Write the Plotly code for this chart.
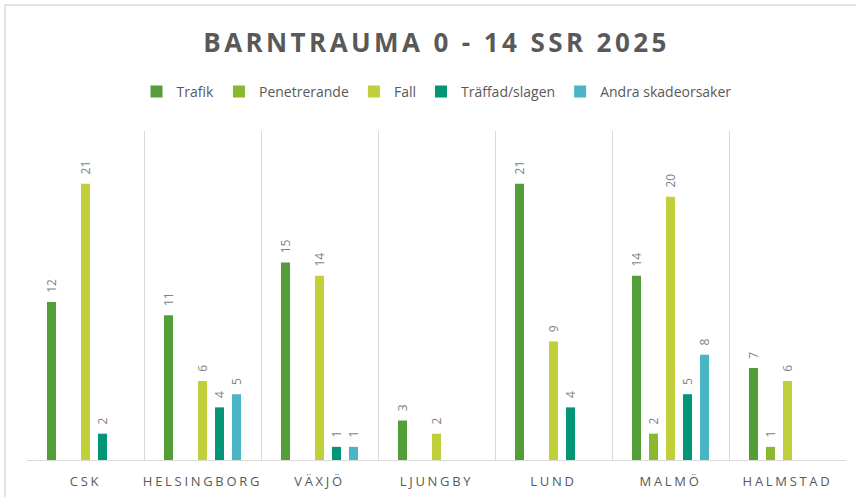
import plotly.graph_objects as go

categories = ["CSK", "HELSINGBORG", "VÄXJÖ", "LJUNGBY", "LUND", "MALMÖ", "HALMSTAD"]
series_names = ["Trafik", "Penetrerande", "Fall", "Träffad/slagen", "Andra skadeorsaker"]
trafik = [12, 11, 15, 3, 21, 14, 7]
penetrerande = [None, None, None, None, None, 2, 1]
fall = [21, 6, 14, 2, 9, 20, 6]
traffad = [2, 4, 1, None, 4, 5, None]
andra = [None, 5, 1, None, None, 8, None]
colors = ["#549E39", "#8AB833", "#C0CF3A", "#029676", "#4AB5C4"]

W, H = 856, 497
ML, MR, MT, MB = 27, 10, 131, 37
PW, PH = W - ML - MR, H - MT - MB

fig = go.Figure()
for name, vals, col in zip(series_names, [trafik, penetrerande, fall, traffad, andra], colors):
    fig.add_trace(go.Bar(
        name=name, x=categories, y=vals, marker=dict(color=col, line=dict(width=0)),
        text=[None if v is None else "\u00a0\u00a0" + str(v) for v in vals],
        textposition="outside", textangle=-90, constraintext="none", cliponaxis=False,
        textfont=dict(family="Open Sans", size=12, color="#7f7f7f"),
        hoverinfo="x+y+name",
    ))

fig.update_layout(
    width=W, height=H,
    margin=dict(l=ML, r=MR, t=MT, b=MB, autoexpand=False),
    paper_bgcolor="white", plot_bgcolor="white",
    barmode="group", bargap=0.2735, bargroupgap=0.47,
    title=dict(text="<b>BARNTRAUMA 0 - 14 SSR 2025</b>", x=0.5, xref="paper", xanchor="center",
               y=1 - 43 / H, yanchor="middle",
               font=dict(family="Open Sans", size=26, color="#595959")),
    legend=dict(orientation="h", x=0.5, xanchor="center", y=1 + (MT - 92) / PH, yanchor="middle",
                font=dict(family="Open Sans", size=14, color="#595959"), bgcolor="rgba(0,0,0,0)"),
    xaxis=dict(type="category", tickson="boundaries", showgrid=True, gridcolor="#d9d9d9", gridwidth=1,
               showline=True, linecolor="#d9d9d9", linewidth=1, ticks="", ticklabelstandoff=9,
               automargin=False,
               tickfont=dict(family="Open Sans", size=13, color="#595959"), range=[-0.5, 6.5]),
    yaxis=dict(range=[0, 25], showgrid=False, showticklabels=False, zeroline=False, showline=False,
               automargin=False),
    shapes=[dict(type="rect", xref="paper", yref="paper",
                 x0=(5 - ML) / PW, x1=1 + (MR + 40) / PW,
                 y0=-(MB + 40) / PH, y1=1 + (MT - 5) / PH,
                 line=dict(color="#d9d9d9", width=1.5), fillcolor="rgba(0,0,0,0)", layer="above")],
)

post = """
document.body.style.margin = '0';
var gd = document.getElementById('{plot_id}');
function spacing(){
  gd.querySelectorAll('.xtick text').forEach(function(t){ t.style.letterSpacing = '2.7px'; });
  gd.querySelectorAll('.gtitle').forEach(function(t){ t.style.letterSpacing = '3.4px'; });
}
spacing();
gd.on('plotly_afterplot', spacing);
"""

fig.write_html("out.html", post_script=post, config={"displayModeBar": False})
